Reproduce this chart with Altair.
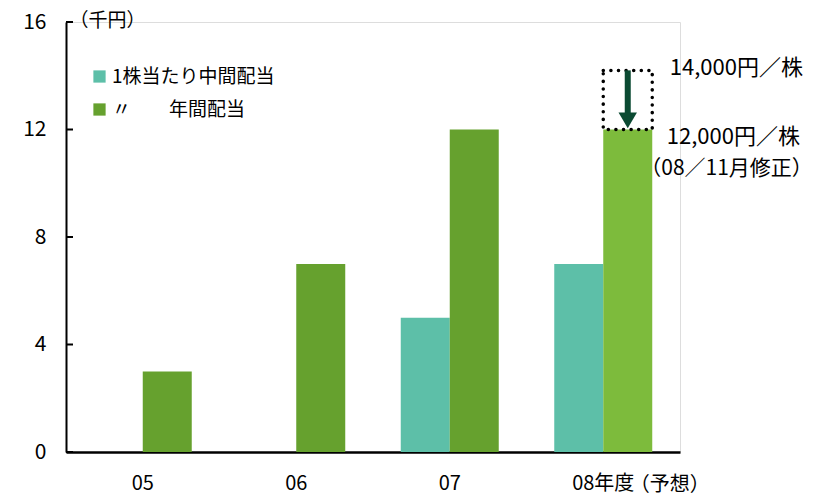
import altair as alt
import pandas as pd

years = ["05", "06", "07", "08"]
interim = [None, None, 5, 7]
annual = [3, 7, 12, 12]
s_interim = "1株当たり中間配当"
s_annual = "\u00a0\u00a0〃　　年間配当"
y_ticks = [0, 4, 8, 12, 16]

old_forecast = 14.2
new_forecast = 12

FONT = "Noto Sans CJK JP"

rows = []
for y, i, a in zip(years, interim, annual):
    if i is not None:
        rows.append({"year": y, "series": s_interim, "value": i})
    rows.append({"year": y, "series": s_annual, "value": a})
df = pd.DataFrame(rows)

xscale = alt.Scale(domain=years, paddingInner=0.3616, paddingOuter=0.1808)
xoff_scale = alt.Scale(domain=[s_interim, s_annual], paddingInner=0, paddingOuter=0)
yscale = alt.Scale(domain=[0, 16], nice=False, zero=True)

x_enc = alt.X("year:N", scale=xscale, sort=years,
              axis=alt.Axis(title=None, ticks=False, domainColor="black", domainWidth=2.5,
                            labelAngle=0, labelFont=FONT, labelFontSize=20, labelColor="black",
                            labelPadding=21,
                            labelExpr="datum.value == '08' ? '08年度' : datum.value"))

bars = alt.Chart(df).mark_bar().encode(
    x=x_enc,
    xOffset=alt.XOffset("series:N", scale=xoff_scale),
    y=alt.Y("value:Q", scale=yscale,
            axis=alt.Axis(values=y_ticks, ticks=False, grid=False, domainColor="black",
                          domainWidth=2, labelFont=FONT, labelFontSize=21, labelColor="black",
                          labelPadding=20,
                          title="（千円）", titleAngle=0, titleAlign="left", titleBaseline="middle",
                          titleX=3, titleY=-2, titleFont=FONT, titleFontSize=19,
                          titleFontWeight="normal", titleColor="black")),
    color=alt.condition(
        (alt.datum.year == "08") & (alt.datum.series == s_annual),
        alt.value("#7dbb3c"),
        alt.Color("series:N",
                  scale=alt.Scale(domain=[s_interim, s_annual], range=["#5dbfa8", "#66a12e"]),
                  legend=alt.Legend(title=None, orient="none", legendX=24, legendY=45,
                                    symbolType="square", symbolSize=150, symbolStrokeWidth=0,
                                    labelFont=FONT, labelFontSize=19, labelColor="black",
                                    labelLimit=400,
                                    rowPadding=13, padding=0, labelOffset=3)),
    ),
)

tick_df = pd.DataFrame({"v": y_ticks})
ticks = alt.Chart(tick_df).mark_rule(color="black", strokeWidth=2).encode(
    x=alt.value(0), x2=alt.value(7), y=alt.Y("v:Q", scale=yscale)
)

ann = pd.DataFrame([{"year": "08", "series": s_annual, "old": old_forecast,
                     "new": new_forecast, "head": 12.34}])

box = alt.Chart(ann).mark_bar(fillOpacity=0, stroke="black", strokeWidth=3.5,
                              strokeDash=[0.1, 7.5], strokeCap="round").encode(
    x=alt.X("year:N", scale=xscale, sort=years),
    xOffset=alt.XOffset("series:N", scale=xoff_scale),
    y=alt.Y("old:Q", scale=yscale), y2="new:Q",
)

shaft = alt.Chart(ann).mark_rule(color="#0b4a32", strokeWidth=6).encode(
    x=alt.X("year:N", scale=xscale, sort=years),
    xOffset=alt.XOffset("series:N", scale=xoff_scale),
    y=alt.Y("old:Q", scale=yscale), y2=alt.Y2("head:Q"),
)

head = alt.Chart(ann).mark_point(shape="triangle-down", filled=True, size=340,
                                 color="#0b4a32", opacity=1).encode(
    x=alt.X("year:N", scale=xscale, sort=years),
    xOffset=alt.XOffset("series:N", scale=xoff_scale),
    y=alt.Y("head:Q", scale=yscale),
)

txt_df = pd.DataFrame([{"year": "08", "series": s_annual,
                        "t1": "14,000円／株", "y1": 14.3,
                        "t2": "12,000円／株", "y2": 11.72,
                        "t3": "（08／11月修正）", "y3": 10.53,
                        "t4": "（予想）", "y4": 0}])

def txt(field, yfield, dx, dy=0, size=19):
    return alt.Chart(txt_df).mark_text(align="left", baseline="middle", font=FONT,
                                       fontSize=size, color="black", dx=dx, dy=dy).encode(
        x=alt.X("year:N", scale=xscale, sort=years),
        xOffset=alt.XOffset("series:N", scale=xoff_scale),
        y=alt.Y(f"{yfield}:Q", scale=yscale),
        text=f"{field}:N",
    )

t1 = txt("t1", "y1", 42, size=22)
t2 = txt("t2", "y2", 39, size=22)
t3 = txt("t3", "y3", 12.5, size=21)
t4 = txt("t4", "y4", 2, dy=33, size=20)

chart = alt.layer(bars, ticks, box, shaft, head, t1, t2, t3, t4).properties(
    width=614, height=430,
    autosize=alt.AutoSizeParams(type="none"),
    padding={"left": 66, "top": 22, "right": 136, "bottom": 45},
).configure_view(stroke=None).configure(background="white")

chart.save("out.html", embed_options={"renderer": "svg", "actions": False})
